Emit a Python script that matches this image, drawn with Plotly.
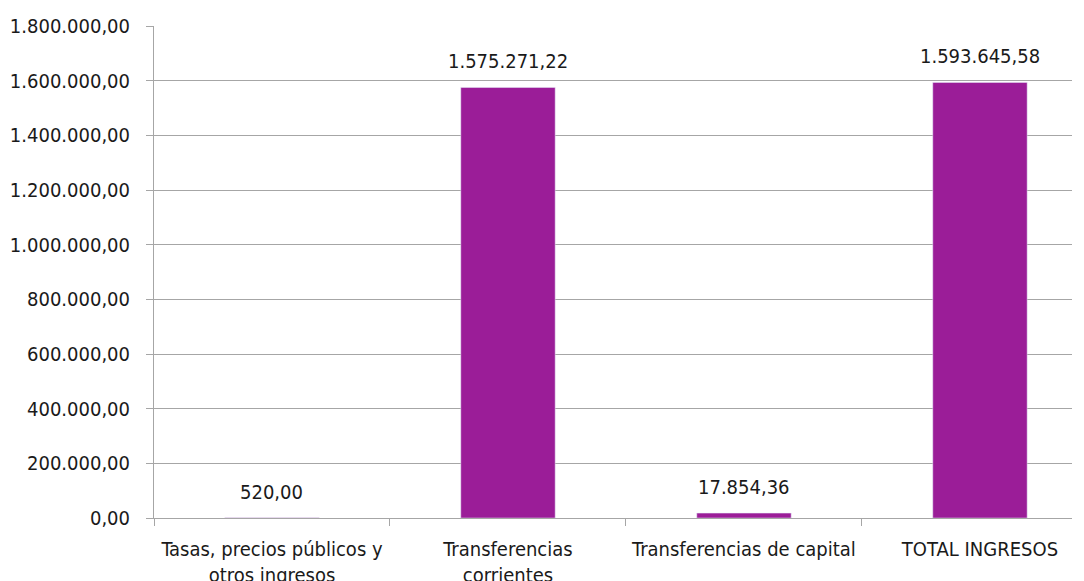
import plotly.graph_objects as go

categories = ["Tasas, precios públicos y<br>otros ingresos", "Transferencias<br>corrientes",
              "Transferencias de capital", "TOTAL INGRESOS"]
values = [520.00, 1575271.22, 17854.36, 1593645.58]
y_ticks = [0, 200000, 400000, 600000, 800000, 1000000, 1200000, 1400000, 1600000, 1800000]

FONT = "DejaVu Sans Condensed, Liberation Sans, sans-serif"
FS = 20

fig = go.Figure(go.Bar(
    x=categories, y=values, marker_color="#9B1D98", width=0.4,
    textposition="none", hoverinfo="skip"))

def es_fmt(v):
    return f"{v:,.2f}".replace(",", "X").replace(".", ",").replace("X", ".")

for c, v in zip(categories, values):
    fig.add_annotation(x=c, y=v, text=es_fmt(v),
                       showarrow=False, yanchor="bottom", yshift=12,
                       font=dict(family=FONT, size=FS, color="#1a1a1a"))

# page body has an 8px default margin, so offsets compensate for it
fig.update_layout(
    width=1084, height=581, separators=",.",
    margin=dict(l=146, r=20, t=18, b=71, autoexpand=False),
    plot_bgcolor="white", paper_bgcolor="white",
    font=dict(family=FONT, size=FS, color="#1a1a1a"),
    showlegend=False,
)
fig.update_xaxes(range=[-0.5, 3.39], tickson="boundaries", ticks="outside", ticklen=7,
                 tickcolor="#A6A6A6", showline=True, linecolor="#A6A6A6", linewidth=1,
                 showgrid=False, tickfont=dict(size=FS), automargin=False,
                 ticklabelstandoff=13)
fig.update_yaxes(range=[0, 1800000], tickvals=y_ticks, tickformat=",.2f", ticks="outside",
                 ticklen=7, tickcolor="#A6A6A6", showline=True, linecolor="#A6A6A6",
                 gridcolor="#A6A6A6", gridwidth=1, zeroline=False, tickfont=dict(size=FS),
                 automargin=False, ticklabelstandoff=12)

fig.write_html("out.html")
